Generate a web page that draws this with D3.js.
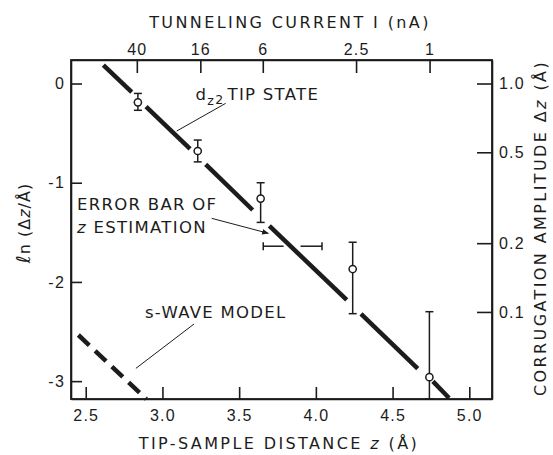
<!DOCTYPE html>
<html>
<head>
<meta charset="utf-8">
<script src="https://cdn.jsdelivr.net/npm/d3@7"></script>
<style>
  body { margin: 0; background: #fff; }
  svg { font-family: 'DejaVu Sans', sans-serif; fill: #1c1c1c; }
  .axis path, .axis line { stroke: #1c1c1c; stroke-width: 1.6; }
  .axis text { font-size: 16px; fill: #1c1c1c; letter-spacing: 1.2px; }
  .label { font-size: 16px; letter-spacing: 2.4px; }
  .note { font-size: 16.5px; letter-spacing: 1.3px; }
</style>
</head>
<body>
<svg id="chart"></svg>
<script>
const w = 553, h = 455;
const margins = { top: 60, right: 61, bottom: 56, left: 71 };

// measured points (z in angstrom, ln of corrugation)
const zPoints = [2.84, 3.23, 3.64, 4.24, 4.74];
const lnPoints = [-0.19, -0.68, -1.16, -1.87, -2.96];
const errTop = [-0.10, -0.57, -1.00, -1.60, -2.30];
const errBottom = [-0.27, -0.79, -1.40, -2.32, -3.18];

// d_z2 tip state line, drawn in pieces (z1, ln1, z2, ln2)
const tipSegments = [
  [2.615, 0.186, 2.800, -0.086],
  [2.893, -0.232, 3.180, -0.660],
  [3.282, -0.815, 3.588, -1.275],
  [3.697, -1.435, 4.201, -2.182],
  [4.294, -2.322, 4.664, -2.875],
  [4.763, -3.003, 4.868, -3.170]
];

// s-wave model (dashed)
const sWaveZ = [2.452, 2.895];
const sWaveLn = [-2.535, -3.18];

// horizontal error bar of z estimation
const zErrSpan = [3.657, 4.040];
const zErrGap = [3.79, 3.90];
const zErrLevel = -1.64;

// axes
const zTicks = [2.5, 3.0, 3.5, 4.0, 4.5, 5.0];
const lnTicks = [0, -1, -2, -3];
const ampTicks = [1.0, 0.5, 0.2, 0.1];
const ampLabels = ['1.0', '0.5', '0.2', '0.1'];
const currentLabels = ['40', '16', '6', '2.5', '1'];
const currentZ = [2.833, 3.247, 3.654, 4.262, 4.741];

const zDomain = [2.404, 5.148];
const lnDomain = [-3.18, 0.237];

let chart = d3.select('#chart')
  .attr('width', w)
  .attr('height', h);

let xScale = d3.scaleLinear()
  .domain(zDomain)
  .range([margins.left, w - margins.right]);

let yScale = d3.scaleLinear()
  .domain(lnDomain)
  .range([h - margins.bottom, margins.top]);

// right axis is the same thing, just exp() of the left one
let ampScale = d3.scaleLog()
  .domain(lnDomain.map(Math.exp))
  .range([h - margins.bottom, margins.top]);

// X AXIS (bottom)
chart.append('g')
  .attr('class', 'axis')
  .attr('transform', `translate(0, ${h - margins.bottom})`)
  .call(d3.axisBottom(xScale).tickValues(zTicks).tickFormat(d3.format('.1f'))
    .tickSize(-12).tickSizeOuter(0).tickPadding(11));

// TOP AXIS (current)
chart.append('g')
  .attr('class', 'axis')
  .attr('transform', `translate(0, ${margins.top})`)
  .call(d3.axisTop(xScale).tickValues(currentZ)
    .tickFormat((d, i) => currentLabels[i])
    .tickSize(-13).tickSizeOuter(0).tickPadding(5));

// Y AXIS (left)
chart.append('g')
  .attr('class', 'axis')
  .attr('transform', `translate(${margins.left}, 0)`)
  .call(d3.axisLeft(yScale).tickValues(lnTicks)
    .tickFormat(d => d < 0 ? '-' + Math.abs(d) : d)
    .tickSize(-11).tickSizeOuter(0).tickPadding(6));

// RIGHT AXIS (corrugation amplitude)
chart.append('g')
  .attr('class', 'axis')
  .attr('transform', `translate(${w - margins.right}, 0)`)
  .call(d3.axisRight(ampScale).tickValues(ampTicks)
    .tickFormat((d, i) => ampLabels[i])
    .tickSize(-15).tickSizeOuter(0).tickPadding(7));

// frame
chart.append('rect')
  .attr('x', margins.left)
  .attr('y', margins.top)
  .attr('width', w - margins.left - margins.right)
  .attr('height', h - margins.top - margins.bottom)
  .style('fill', 'none')
  .style('stroke', '#1c1c1c')
  .style('stroke-width', 1.8);

// AXIS LABELS
const topLabel = chart.append('text')
  .attr('class', 'label')
  .attr('transform', `translate(${290}, ${28})`)
  .attr('text-anchor', 'middle')
  .text('TUNNELING CURRENT I (nA)');

const xLabel = chart.append('text')
  .attr('class', 'label')
  .attr('transform', `translate(${279}, ${449})`)
  .attr('text-anchor', 'middle');
xLabel.append('tspan').text('TIP-SAMPLE DISTANCE ');
xLabel.append('tspan').style('font-style', 'italic').text('z');
xLabel.append('tspan').text(' (Å)');

const yLabel = chart.append('text')
  .attr('class', 'label')
  .attr('transform', `translate(${30}, ${223}) rotate(-90)`)
  .attr('text-anchor', 'middle')
  .style('letter-spacing', '1px');
yLabel.append('tspan').style('font-style', 'italic').style('font-size', '19px').text('ℓ');
yLabel.append('tspan').text('n (Δ');
yLabel.append('tspan').style('font-style', 'italic').text('z');
yLabel.append('tspan').text('/Å)');

const rLabel = chart.append('text')
  .attr('class', 'label')
  .attr('transform', `translate(${546}, ${228}) rotate(-90)`)
  .attr('text-anchor', 'middle');
rLabel.append('tspan').text('CORRUGATION AMPLITUDE Δ');
rLabel.append('tspan').style('font-style', 'italic').text('z');
rLabel.append('tspan').text(' (Å)');

// d_z2 tip state line
chart.selectAll('line.tip')
  .data(tipSegments)
  .join('line')
  .attr('class', 'tip')
  .attr('x1', d => xScale(d[0]))
  .attr('y1', d => yScale(d[1]))
  .attr('x2', d => xScale(d[2]))
  .attr('y2', d => yScale(d[3]))
  .style('stroke', '#1c1c1c')
  .style('stroke-width', 4.5);

// s-wave model
chart.append('line')
  .attr('x1', xScale(sWaveZ[0]))
  .attr('y1', yScale(sWaveLn[0]))
  .attr('x2', xScale(sWaveZ[1]))
  .attr('y2', yScale(sWaveLn[1]))
  .style('stroke', '#1c1c1c')
  .style('stroke-width', 4.5)
  .style('stroke-dasharray', '15,8');

// vertical error bars
const points = zPoints.map((z, i) => ({ z: z, v: lnPoints[i], hi: errTop[i], lo: errBottom[i] }));
const cap = 4;

const bars = chart.selectAll('g.err')
  .data(points)
  .join('g')
  .attr('class', 'err')
  .style('stroke', '#1c1c1c')
  .style('stroke-width', 1.5);

bars.append('line')
  .attr('x1', d => xScale(d.z)).attr('x2', d => xScale(d.z))
  .attr('y1', d => yScale(d.hi)).attr('y2', d => yScale(d.lo));
bars.append('line')
  .attr('x1', d => xScale(d.z) - cap).attr('x2', d => xScale(d.z) + cap)
  .attr('y1', d => yScale(d.hi)).attr('y2', d => yScale(d.hi));
bars.append('line')
  .attr('x1', d => xScale(d.z) - cap).attr('x2', d => xScale(d.z) + cap)
  .attr('y1', d => yScale(d.lo)).attr('y2', d => yScale(d.lo));

chart.selectAll('circle')
  .data(points)
  .join('circle')
  .attr('cx', d => xScale(d.z))
  .attr('cy', d => yScale(d.v))
  .attr('r', 3.6)
  .style('fill', 'white')
  .style('stroke', '#1c1c1c')
  .style('stroke-width', 1.5);

// horizontal error bar (two halves, gap where the line passes)
const hBar = chart.append('g').style('stroke', '#1c1c1c').style('stroke-width', 1.5);
[[zErrSpan[0], zErrGap[0]], [zErrGap[1], zErrSpan[1]]].forEach(p => {
  hBar.append('line')
    .attr('x1', xScale(p[0])).attr('x2', xScale(p[1]))
    .attr('y1', yScale(zErrLevel)).attr('y2', yScale(zErrLevel));
});
zErrSpan.forEach(z => {
  hBar.append('line')
    .attr('x1', xScale(z)).attr('x2', xScale(z))
    .attr('y1', yScale(zErrLevel) - cap).attr('y2', yScale(zErrLevel) + cap);
});

// annotations
const note = (z, v) => chart.append('text')
  .attr('class', 'note')
  .attr('x', xScale(z))
  .attr('y', yScale(v));

const tipNote = note(3.216, -0.166);
tipNote.append('tspan').text('d');
tipNote.append('tspan').attr('dy', 5).style('font-size', '12.5px').text('z');
tipNote.append('tspan').attr('dy', -1).style('font-size', '12.5px').text('2');
tipNote.append('tspan').attr('dy', -4).attr('dx', 3).text('TIP STATE');

note(2.443, -1.275).text('ERROR BAR OF');
const estNote = note(2.443, -1.502);
estNote.append('tspan').style('font-style', 'italic').text('z');
estNote.append('tspan').text(' ESTIMATION');

note(2.886, -2.364).text('s-WAVE MODEL');

// leader lines
const leaders = [
  [3.412, -0.200, 3.093, -0.479],
  [3.321, -1.359, 3.690, -1.510],
  [3.206, -2.424, 2.827, -2.871]
];

chart.append('defs').append('marker')
  .attr('id', 'arrow')
  .attr('viewBox', '0 0 10 10')
  .attr('refX', 9).attr('refY', 5)
  .attr('markerWidth', 7).attr('markerHeight', 7)
  .attr('orient', 'auto')
  .append('path')
  .attr('d', 'M0,1L10,5L0,9Z')
  .style('fill', '#1c1c1c');

chart.selectAll('line.leader')
  .data(leaders)
  .join('line')
  .attr('class', 'leader')
  .attr('x1', d => xScale(d[0]))
  .attr('y1', d => yScale(d[1]))
  .attr('x2', d => xScale(d[2]))
  .attr('y2', d => yScale(d[3]))
  .attr('marker-end', (d, i) => i == 1 ? 'url(#arrow)' : null)
  .style('stroke', '#1c1c1c')
  .style('stroke-width', 1);
</script>
</body>
</html>
